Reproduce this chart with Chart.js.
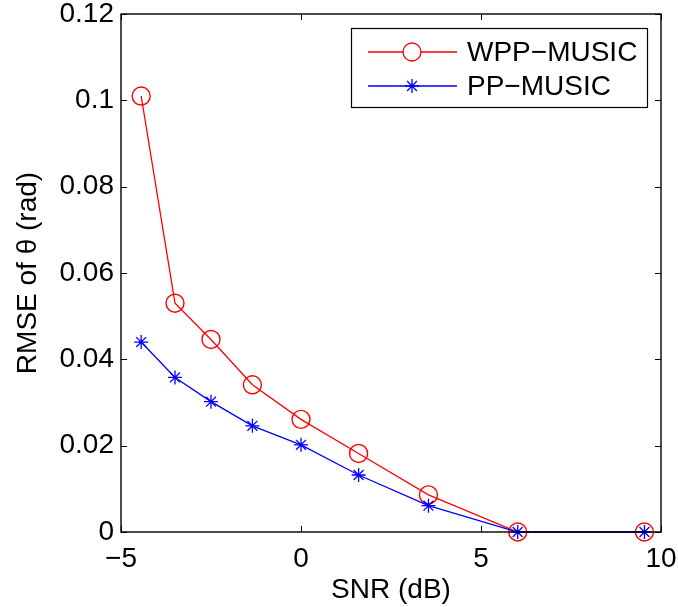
<!DOCTYPE html>
<html>
<head>
<meta charset="utf-8">
<script src="https://cdn.jsdelivr.net/npm/chart.js@4.4.0/dist/chart.umd.min.js"></script>
<style>
  html, body { margin: 0; padding: 0; background: #fff; }
  #wrap { width: 678px; height: 607px; }
</style>
</head>
<body>
<div id="wrap"><canvas id="myChart" width="678" height="607"></canvas></div>
<script>
// SNR points (dB) and RMSE of each estimator
let snrDb = [-4.44, -3.5, -2.5, -1.35, 0, 1.6, 3.54, 6.02, 9.54];
let wppMusic = [0.101, 0.053, 0.0446, 0.0341, 0.0261, 0.0182, 0.0086, 0, 0];
let ppMusic = [0.0440, 0.0358, 0.0302, 0.0246, 0.0202, 0.0132, 0.0061, 0, 0];
let xTicks = [-5, 0, 5, 10];
let yTicks = [0, 0.02, 0.04, 0.06, 0.08, 0.1, 0.12];

const FONT = "'Liberation Sans', Arial, Helvetica, sans-serif";

function toPoints(xs, ys) {
    let out = [];
    for (let i = 0; i < xs.length; i++) out.push({ x: xs[i], y: ys[i] });
    return out;
}

// fixed axis sizes, no extra room for overhanging labels
function fixSize(w, h) {
    return function (scale) {
        if (w != null) scale.width = w;
        if (h != null) scale.height = h;
        scale.paddingTop = 0;
        scale.paddingBottom = 0;
        scale.paddingLeft = 0;
        scale.paddingRight = 0;
    };
}

// box around the axes with ticks pointing inwards on all four sides
const frame = {
    id: "frame",
    afterDatasetsDraw(chart) {
        let c = chart.ctx, a = chart.chartArea;
        let sx = chart.scales.x, sy = chart.scales.y;
        c.save();
        c.strokeStyle = "#000";
        c.lineWidth = 1.4;
        c.strokeRect(a.left, a.top, a.right - a.left, a.bottom - a.top);
        c.lineWidth = 1;
        let tl = 6;
        c.beginPath();
        xTicks.forEach(v => {
            let px = Math.round(sx.getPixelForValue(v)) + 0.5;
            c.moveTo(px, a.bottom); c.lineTo(px, a.bottom - tl);
            c.moveTo(px, a.top); c.lineTo(px, a.top + tl);
        });
        yTicks.forEach(v => {
            let py = Math.round(sy.getPixelForValue(v)) + 0.5;
            c.moveTo(a.left, py); c.lineTo(a.left + tl, py);
            c.moveTo(a.right, py); c.lineTo(a.right - tl, py);
        });
        c.stroke();
        c.restore();
    }
};

// legend box in the upper right corner
const legendBox = {
    id: "legendBox",
    afterDraw(chart) {
        let c = chart.ctx;
        let bx = 351, by = 28, bw = 296, bh = 79;
        c.save();
        c.fillStyle = "#fff";
        c.fillRect(bx, by, bw, bh);
        c.strokeStyle = "#000";
        c.lineWidth = 1.2;
        c.strokeRect(bx + 0.5, by + 0.5, bw, bh);
        let rows = [52, 86];
        chart.data.datasets.forEach((ds, i) => {
            let y = rows[i];
            c.strokeStyle = ds.borderColor;
            c.lineWidth = ds.borderWidth;
            c.beginPath();
            c.moveTo(368, y); c.lineTo(457, y);
            c.stroke();
            Chart.helpers.drawPoint(c, {
                pointStyle: ds.pointStyle,
                radius: ds.pointRadius,
                borderWidth: ds.pointBorderWidth,
                rotation: 0
            }, 412, y);
            c.fillStyle = "#000";
            c.font = "28px " + FONT;
            c.textAlign = "left";
            c.textBaseline = "middle";
            c.fillText(ds.label, 467, y + 1);
        });
        c.restore();
    }
};

let ctx = document.getElementById("myChart").getContext("2d");
let myChart = new Chart(ctx, {
    type: "line",
    data: {
        datasets: [
            {
                label: "WPP\u2212MUSIC",
                data: toPoints(snrDb, wppMusic),
                borderColor: "#ff0000",
                backgroundColor: "rgba(0,0,0,0)",
                borderWidth: 1.3,
                pointStyle: "circle",
                pointRadius: 9,
                pointBorderWidth: 1.4,
                pointBorderColor: "#ff0000",
                pointBackgroundColor: "rgba(0,0,0,0)",
                order: 1
            },
            {
                label: "PP\u2212MUSIC",
                data: toPoints(snrDb, ppMusic),
                borderColor: "#0000ff",
                backgroundColor: "rgba(0,0,0,0)",
                borderWidth: 1.3,
                pointStyle: "star",
                pointRadius: 7,
                pointBorderWidth: 1.3,
                pointBorderColor: "#0000ff",
                pointBackgroundColor: "#0000ff",
                order: 0
            }
        ]
    },
    options: {
        responsive: false,
        animation: false,
        clip: false,
        tension: 0,
        layout: { padding: { top: 14, right: 17, left: 0, bottom: 0 } },
        plugins: { legend: { display: false }, tooltip: { enabled: false } },
        scales: {
            x: {
                type: "linear",
                min: -5, max: 10,
                afterFit: fixSize(null, 75),
                afterBuildTicks(scale) { scale.ticks = xTicks.map(v => ({ value: v })); },
                grid: { display: false, drawTicks: false },
                border: { display: false },
                ticks: {
                    padding: 10,
                    color: "#000",
                    font: { family: FONT, size: 28 },
                    maxRotation: 0,
                    callback: v => String(v).replace("-", "\u2212")
                },
                title: {
                    display: true,
                    text: "SNR (dB)",
                    color: "#000",
                    font: { family: FONT, size: 28 },
                    padding: { top: 0, bottom: 0 }
                }
            },
            y: {
                min: 0, max: 0.12,
                afterFit: fixSize(121, null),
                afterBuildTicks(scale) { scale.ticks = yTicks.map(v => ({ value: v })); },
                grid: { display: false, drawTicks: false },
                border: { display: false },
                ticks: {
                    padding: 7,
                    color: "#000",
                    font: { family: FONT, size: 28 },
                    callback: v => String(+v.toFixed(2))
                },
                title: {
                    display: true,
                    text: "RMSE of \u03b8 (rad)",
                    color: "#000",
                    font: { family: FONT, size: 28 },
                    padding: { top: 11, bottom: 0 }
                }
            }
        }
    },
    plugins: [frame, legendBox]
});
</script>
</body>
</html>
